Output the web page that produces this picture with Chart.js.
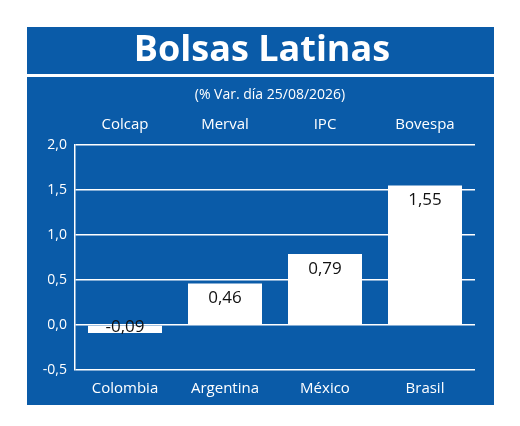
<!DOCTYPE html>
<html><head><meta charset="utf-8">
<script src="https://cdn.jsdelivr.net/npm/chart.js@4"></script>
<style>html,body{margin:0;padding:0;background:#fff}#w{width:520px;height:426px}</style>
</head><body><div id="w"><canvas id="c"></canvas></div>
<script>
const countries = ["Colombia","Argentina","México","Brasil"];
const indices = ["Colcap","Merval","IPC","Bovespa"];
const values = [-0.09, 0.46, 0.79, 1.55];
const title = "Bolsas Latinas";
const subtitle = "(% Var. día 25/08/2026)";
const BLUE = "#0a5ba8";
const F = "'Open Sans', 'Liberation Sans', sans-serif";
const fmt = v => v.toFixed(2).replace('.', ',');

const deco = {
  id: 'deco',
  beforeDraw(ch) {
    const c = ch.ctx; c.save();
    c.fillStyle = BLUE; c.fillRect(27, 27, 467, 378);
    c.fillStyle = '#fff'; c.fillRect(27, 74, 467, 3);
    c.textAlign = 'center'; c.textBaseline = 'middle';
    c.font = "bold 36px " + F; c.fillText(title, 262, 51);
    c.font = "14px " + F; c.fillText(subtitle, 270, 95);
    const xs = ch.scales.x;
    c.font = "15px " + F;
    indices.forEach((t, i) => c.fillText(t, xs.getPixelForValue(i), 125));
    c.restore();
  },
  afterDatasetsDraw(ch) {
    const c = ch.ctx; c.save();
    c.fillStyle = '#111'; c.textAlign = 'center'; c.textBaseline = 'middle';
    c.font = "17px " + F;
    const m = ch.getDatasetMeta(0), ys = ch.scales.y;
    values.forEach((v, i) => {
      const x = m.data[i].x;
      const y = v >= 0 ? ys.getPixelForValue(v) + 15 : ys.getPixelForValue(0) + 2;
      c.fillText(fmt(v), x, y);
    });
    c.restore();
  }
};

new Chart(document.getElementById('c'), {
  type: 'bar',
  data: { labels: countries, datasets: [{ data: values, backgroundColor: '#fff', borderWidth: 0,
    barPercentage: 0.74, categoryPercentage: 1 }] },
  options: {
    responsive: true, maintainAspectRatio: false, animation: false,
    layout: { padding: { left: 27, right: 45, top: 145, bottom: 26 } },
    plugins: { legend: { display: false }, tooltip: { enabled: false } },
    scales: {
      x: { grid: { display: false }, border: { display: false },
        ticks: { color: '#fff', font: { size: 15, family: F }, padding: 2 },
        afterFit(s) { s.height = 30; } },
      y: { min: -0.5, max: 2, grid: { color: '#fff', lineWidth: 1.5, drawTicks: false },
        border: { color: '#fff', width: 1.5 },
        ticks: { stepSize: 0.5, color: '#fff', font: { size: 14, family: F }, padding: 8,
          callback: v => v.toFixed(1).replace('.', ',') },
        afterFit(s) { s.width = 48; } }
    }
  },
  plugins: [deco]
});
</script></body></html>
